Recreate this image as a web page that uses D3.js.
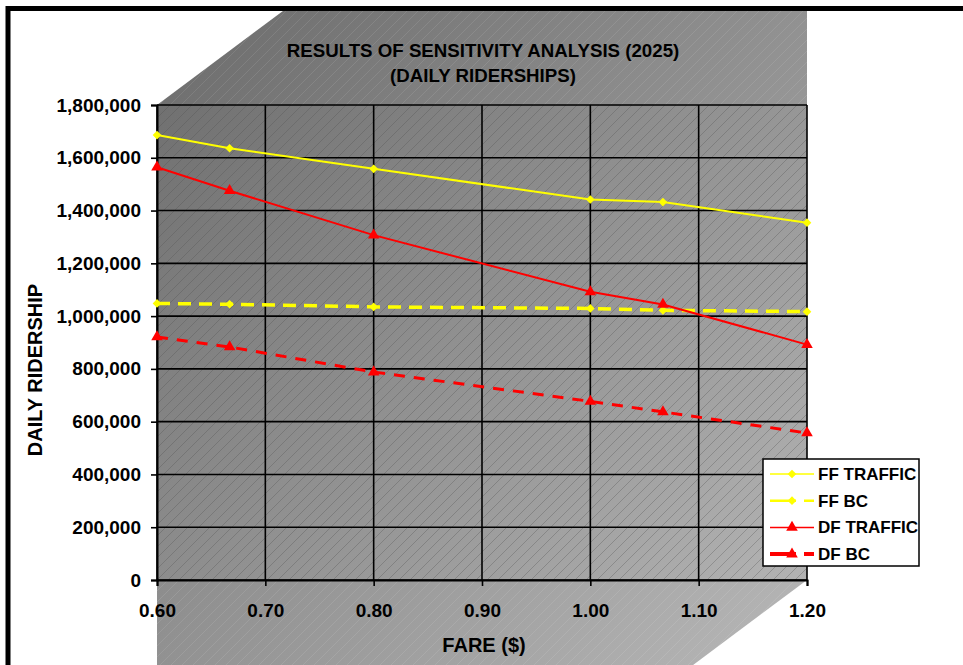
<!DOCTYPE html>
<html>
<head>
<meta charset="utf-8">
<script src="https://cdn.jsdelivr.net/npm/d3@7"></script>
<style>
    body { margin: 0; background: #fff; }
    svg { display: block; font-family: "Liberation Sans", Arial, sans-serif; font-weight: bold; }
</style>
</head>
<body>
<script>
"use strict";

///////////////////
// data
///////////////////

var fares = [0.60, 0.667, 0.80, 1.00, 1.067, 1.20];
var ffTraffic = [1686000, 1636000, 1558000, 1442000, 1432000, 1354000];
var ffBc = [1048000, 1045000, 1035000, 1029000, 1022000, 1017000];
var dfTraffic = [1564000, 1475000, 1307000, 1092000, 1044000, 892000];
var dfBc = [921000, 883000, 788000, 677000, 637000, 557000];
var seriesNames = ["FF TRAFFIC", "FF BC", "DF TRAFFIC", "DF BC"];
var xTicks = [0.60, 0.70, 0.80, 0.90, 1.00, 1.10, 1.20];
var yTicks = [0, 200000, 400000, 600000, 800000, 1000000, 1200000, 1400000, 1600000, 1800000];
var titleLines = ["RESULTS OF SENSITIVITY ANALYSIS (2025)", "(DAILY RIDERSHIPS)"];

///////////////////
// functions
///////////////////

// build {fare, value} points for one series
function toPoints(values) {
    return values.map(function(v, i) {
        return { "fare": fares[i], "value": v };
    });
}

(function() {

    var W = 963, H = 665;
    var svg = d3.select("body").append("svg")
        .attr("width", W)
        .attr("height", H);

    var x = d3.scaleLinear().domain([0.6, 1.2]).range([157, 807]);
    var y = d3.scaleLinear().domain([0, 1800000]).range([580, 105]);

    var series = [
        { name: seriesNames[0], data: toPoints(ffTraffic), color: "#ffff00", width: 2, dash: null, shape: d3.symbolDiamond2, size: 48 },
        { name: seriesNames[1], data: toPoints(ffBc), color: "#ffff00", width: 3.5, dash: "13,8", shape: d3.symbolDiamond2, size: 48 },
        { name: seriesNames[2], data: toPoints(dfTraffic), color: "#ff0000", width: 2, dash: null, shape: d3.symbolTriangle, size: 58 },
        { name: seriesNames[3], data: toPoints(dfBc), color: "#ff0000", width: 3, dash: "11,9", shape: d3.symbolTriangle, size: 58 }
    ];

    var defs = svg.append("defs");

    // inner area of the frame
    defs.append("clipPath").attr("id", "frameClip")
        .append("rect").attr("x", 8).attr("y", 9).attr("width", W).attr("height", H);

    // gray gradient of the 3d walls
    var grad = defs.append("linearGradient").attr("id", "wallGrad")
        .attr("gradientUnits", "userSpaceOnUse")
        .attr("x1", 157).attr("y1", 12).attr("x2", 807).attr("y2", 665);
    grad.append("stop").attr("offset", 0).attr("stop-color", "#6b6b6b");
    grad.append("stop").attr("offset", 1).attr("stop-color", "#b8b8b8");

    // diagonal hatching
    function hatch(id, color) {
        var p = defs.append("pattern").attr("id", id)
            .attr("patternUnits", "userSpaceOnUse")
            .attr("width", 11).attr("height", 11);
        p.append("path")
            .attr("d", "M0,11 L11,0 M-2,2 L2,-2 M9,13 L13,9")
            .attr("stroke", color)
            .attr("stroke-width", 0.8);
    }
    hatch("hatchDark", "rgba(30,30,30,0.32)");
    hatch("hatchLight", "rgba(255,255,255,0.12)");

    ///////////////////
    // background walls
    ///////////////////

    var L = x(0.6), R = x(1.2), T = y(1800000), B = y(0);
    var d = 130, k = 1.34;
    var wall = [[L, T], [L + k * d, T - d], [R, T - d], [R, B], [R - k * d * 0.75, B + d * 0.75], [L, B + d * 0.75]];

    var back = svg.append("g").attr("clip-path", "url(#frameClip)");
    back.append("path")
        .attr("d", "M" + wall.join("L") + "Z")
        .attr("fill", "url(#wallGrad)");
    back.append("path")
        .attr("d", "M" + wall.join("L") + "Z")
        .attr("fill", "url(#hatchLight)");
    back.append("rect")
        .attr("x", L).attr("y", T).attr("width", R - L).attr("height", B - T)
        .attr("fill", "url(#hatchDark)");

    ///////////////////
    // grid and axes
    ///////////////////

    svg.append("g").selectAll("line.h")
        .data(yTicks)
        .enter().append("line")
        .attr("class", "h")
        .attr("x1", L).attr("x2", R)
        .attr("y1", function(t) { return y(t); })
        .attr("y2", function(t) { return y(t); })
        .attr("stroke", "#000").attr("stroke-width", 1.6);

    svg.append("g").selectAll("line.v")
        .data(xTicks)
        .enter().append("line")
        .attr("class", "v")
        .attr("y1", T).attr("y2", B)
        .attr("x1", function(t) { return x(t); })
        .attr("x2", function(t) { return x(t); })
        .attr("stroke", "#000").attr("stroke-width", 1.6);

    var yAxis = svg.append("g")
        .attr("transform", "translate(" + L + ",0)")
        .call(d3.axisLeft(y).tickValues(yTicks).tickFormat(d3.format(",")).tickSize(6).tickPadding(10));
    var xAxis = svg.append("g")
        .attr("transform", "translate(0," + B + ")")
        .call(d3.axisBottom(x).tickValues(xTicks).tickFormat(d3.format(".2f")).tickSize(6).tickPadding(18));

    [yAxis, xAxis].forEach(function(a) {
        a.select(".domain").attr("stroke", "#000").attr("stroke-width", 2);
        a.selectAll(".tick line").attr("stroke", "#000").attr("stroke-width", 1.6);
        a.selectAll(".tick text")
            .attr("fill", "#000")
            .style("font-family", "'Liberation Sans', Arial, sans-serif")
            .style("font-weight", "bold")
            .style("font-size", "19px");
    });

    ///////////////////
    // series
    ///////////////////

    var line = d3.line()
        .x(function(p) { return x(p.fare); })
        .y(function(p) { return y(p.value); });

    series.forEach(function(s) {
        svg.append("path")
            .datum(s.data)
            .attr("d", line)
            .attr("fill", "none")
            .attr("stroke", s.color)
            .attr("stroke-width", s.width)
            .attr("stroke-dasharray", s.dash);
        svg.append("g").selectAll("path")
            .data(s.data)
            .enter().append("path")
            .attr("transform", function(p) { return "translate(" + x(p.fare) + "," + y(p.value) + ")"; })
            .attr("d", d3.symbol().type(s.shape).size(s.size))
            .attr("fill", s.color);
    });

    ///////////////////
    // titles
    ///////////////////

    svg.append("g").selectAll("text")
        .data(titleLines)
        .enter().append("text")
        .attr("x", 483)
        .attr("y", function(t, i) { return 57 + i * 25; })
        .attr("text-anchor", "middle")
        .style("font-size", "18.7px")
        .text(function(t) { return t; });

    svg.append("text")
        .attr("x", (L + R) / 2 + 2).attr("y", 652)
        .attr("text-anchor", "middle")
        .style("font-size", "20px")
        .text("FARE ($)");

    svg.append("text")
        .attr("transform", "translate(42,370) rotate(-90)")
        .attr("text-anchor", "middle")
        .style("font-size", "20px")
        .text("DAILY RIDERSHIP");

    ///////////////////
    // legend
    ///////////////////

    var lg = svg.append("g").attr("transform", "translate(763,459)");
    lg.append("rect")
        .attr("width", 156).attr("height", 107)
        .attr("fill", "#fff").attr("stroke", "#000").attr("stroke-width", 1.5);

    var item = lg.selectAll("g.item")
        .data(series)
        .enter().append("g")
        .attr("class", "item")
        .attr("transform", function(s, i) { return "translate(0," + (15 + i * 26.7) + ")"; });
    item.append("line")
        .attr("x1", 7).attr("x2", 51)
        .attr("stroke", function(s) { return s.color; })
        .attr("stroke-width", function(s, i) { return i === 3 ? 4 : (i === 1 ? 2.5 : 1.5); })
        .attr("stroke-dasharray", function(s) { return s.dash ? "26,8,20" : null; });
    item.append("path")
        .attr("transform", "translate(29,0)")
        .attr("d", function(s) { return d3.symbol().type(s.shape).size(s.size)(); })
        .attr("fill", function(s) { return s.color; });
    item.append("text")
        .attr("x", 55).attr("y", 6)
        .style("font-size", "17px")
        .text(function(s) { return s.name; });

    ///////////////////
    // frame
    ///////////////////

    svg.append("rect")
        .attr("x", 8).attr("y", 8.5)
        .attr("width", W + 20).attr("height", H + 20)
        .attr("fill", "none")
        .attr("stroke", "#000")
        .attr("stroke-width", 5);

})();
</script>
</body>
</html>
